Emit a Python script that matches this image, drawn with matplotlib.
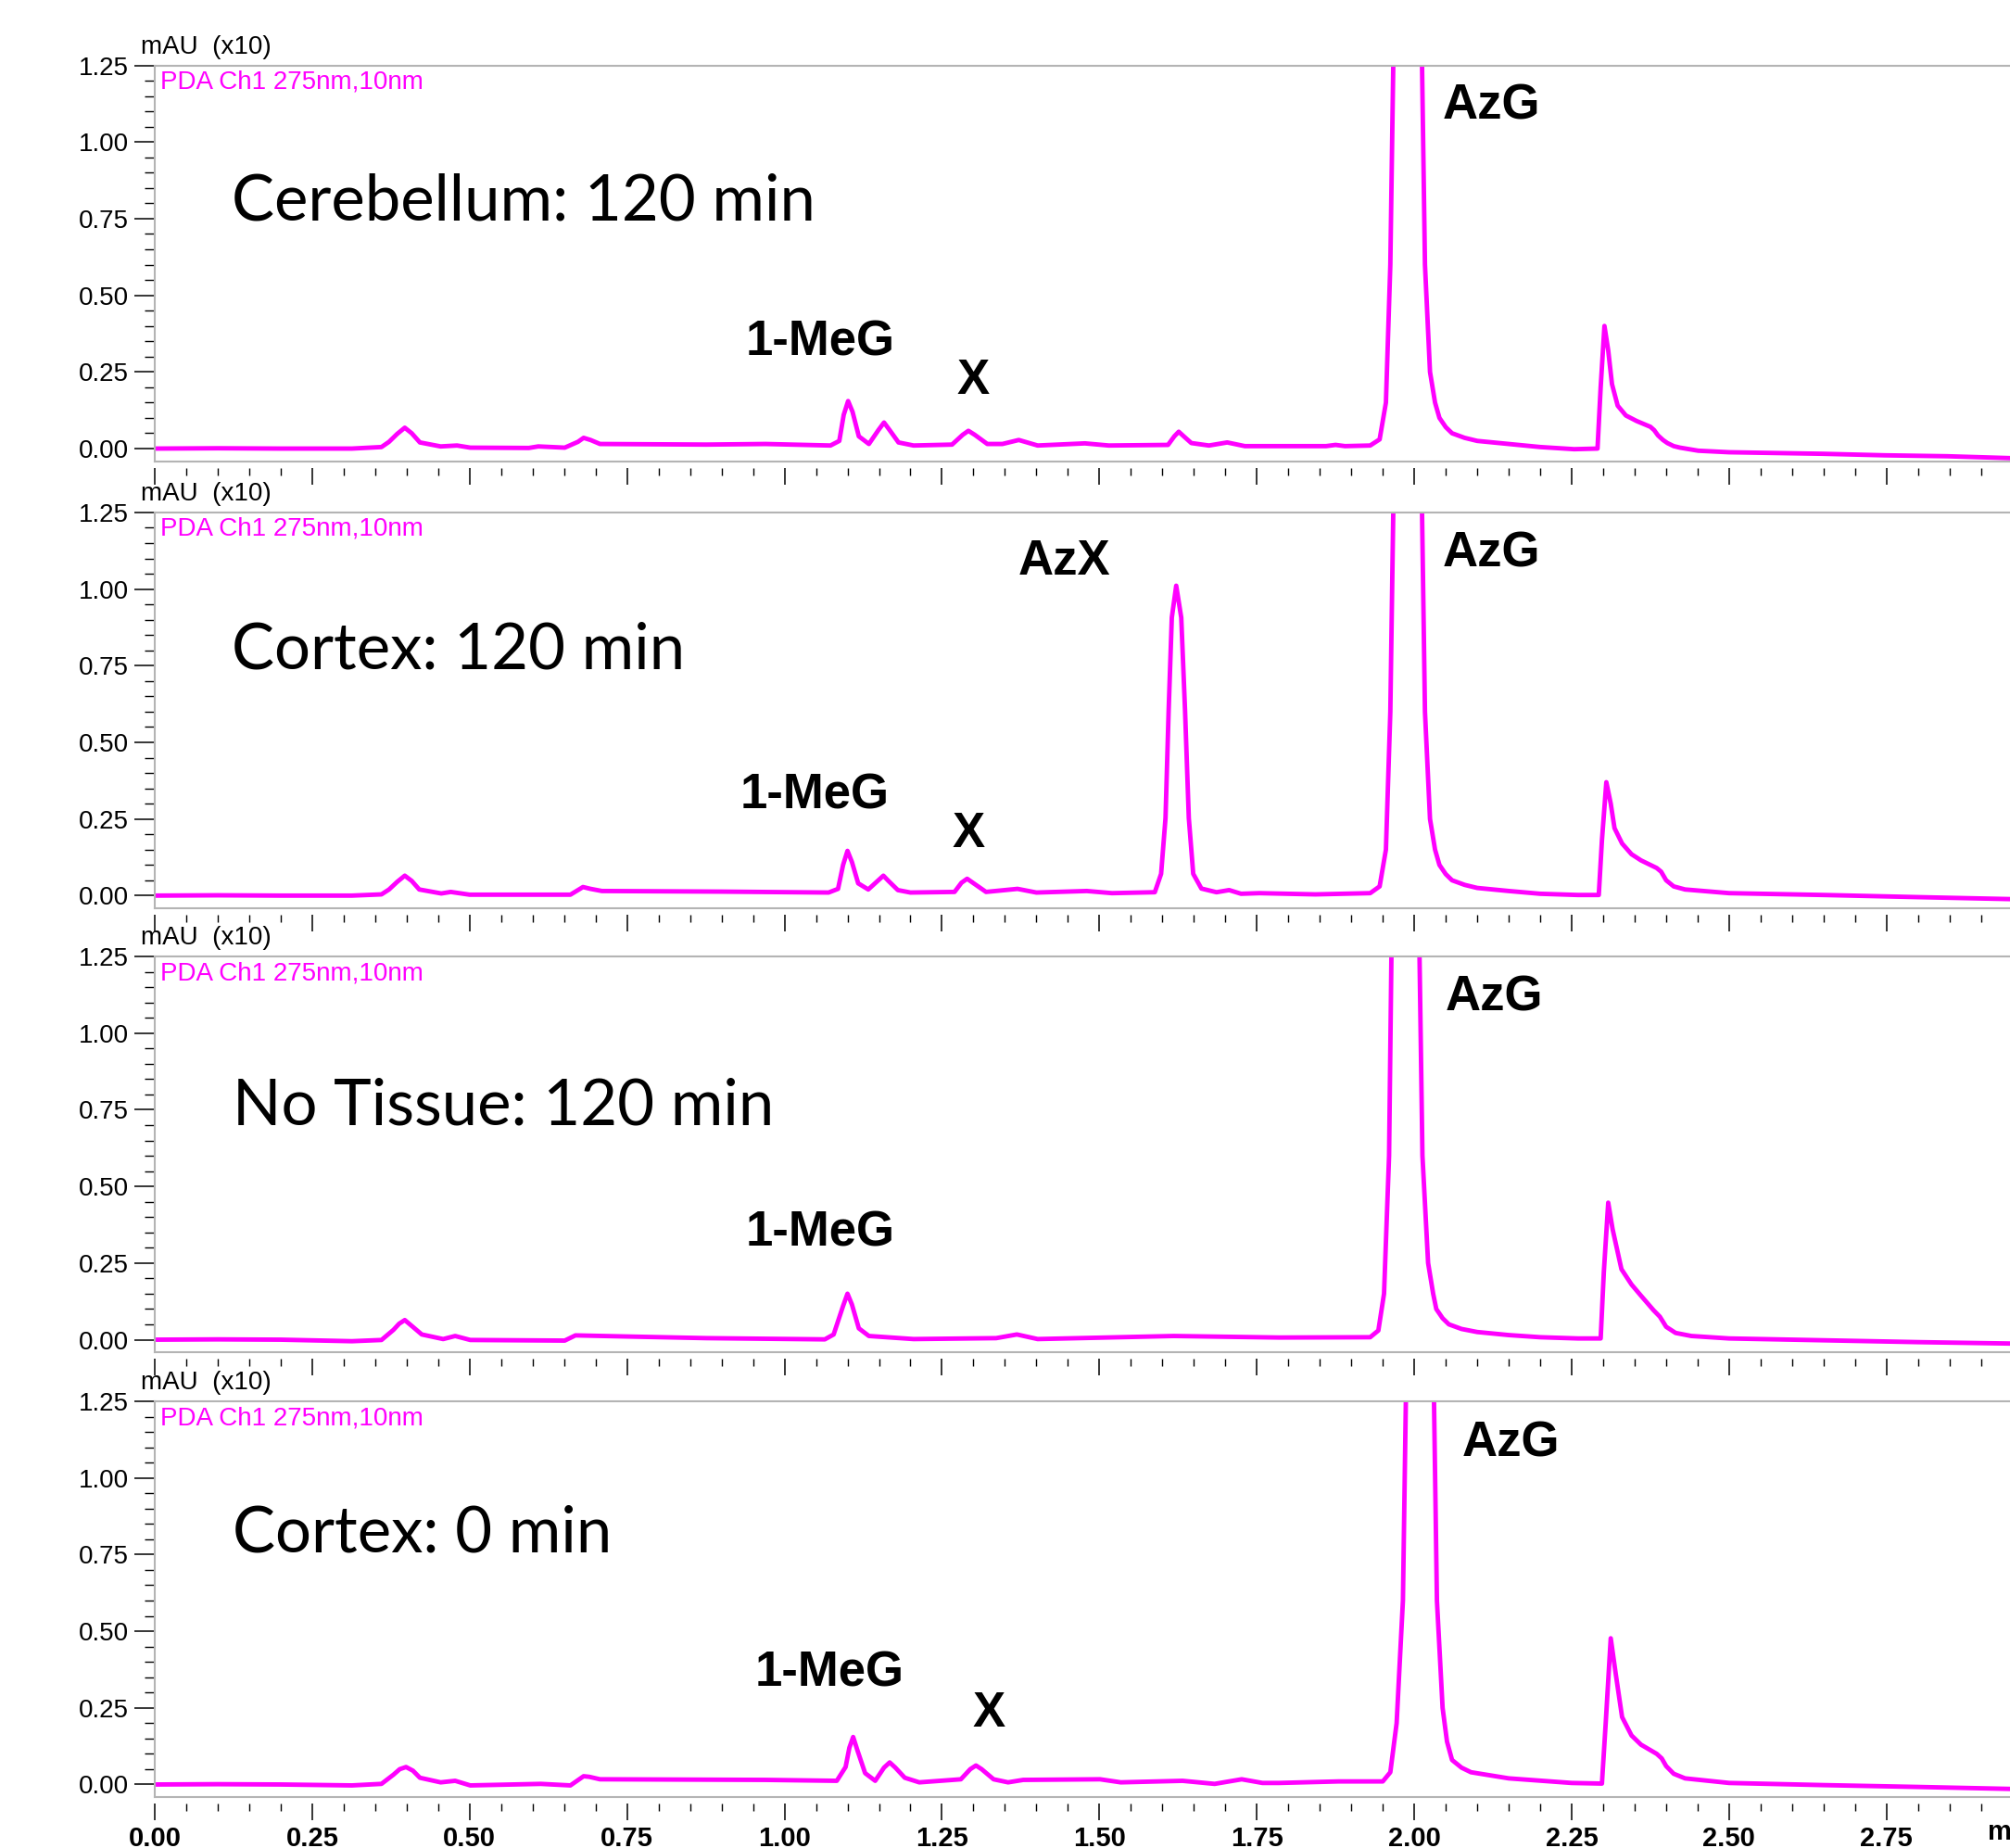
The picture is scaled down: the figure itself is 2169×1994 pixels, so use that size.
import numpy as np
import matplotlib
matplotlib.use("Agg")
import matplotlib.pyplot as plt
from matplotlib.ticker import MultipleLocator, FormatStrFormatter

# retention time (min) / absorbance (mAU x10)
t_cereb = [0.00, 0.10, 0.20, 0.313, 0.360, 0.372, 0.385, 0.397, 0.408, 0.421, 0.454, 0.480, 0.501,
           0.594, 0.609, 0.651, 0.672, 0.681, 0.692, 0.707, 0.876, 0.970, 1.073, 1.087, 1.094,
           1.101, 1.108, 1.118, 1.134, 1.149, 1.158, 1.167, 1.181, 1.205, 1.266, 1.283, 1.292,
           1.302, 1.322, 1.346, 1.372, 1.402, 1.477, 1.515, 1.609, 1.619, 1.626, 1.634, 1.646,
           1.674, 1.703, 1.731, 1.785, 1.860, 1.875, 1.890, 1.930, 1.945, 1.955, 1.962, 1.967,
           1.990, 2.012, 2.017, 2.025, 2.033, 2.040, 2.050, 2.060, 2.080, 2.100, 2.150, 2.200,
           2.254, 2.291, 2.296, 2.302, 2.308, 2.314, 2.323, 2.336, 2.353, 2.375, 2.381, 2.387,
           2.395, 2.402, 2.412, 2.422, 2.451, 2.500, 2.648, 2.747, 2.846, 2.960]
v_cereb = [0.000, 0.001, 0.000, 0.000, 0.005, 0.022, 0.048, 0.068, 0.050, 0.020, 0.007, 0.010, 0.003,
           0.002, 0.007, 0.003, 0.022, 0.035, 0.028, 0.015, 0.013, 0.015, 0.010, 0.025, 0.110,
           0.155, 0.120, 0.040, 0.015, 0.060, 0.085, 0.060, 0.020, 0.010, 0.013, 0.045, 0.058,
           0.045, 0.015, 0.015, 0.028, 0.010, 0.017, 0.010, 0.012, 0.040, 0.055, 0.040, 0.018,
           0.010, 0.020, 0.008, 0.008, 0.008, 0.012, 0.008, 0.010, 0.030, 0.150, 0.600, 1.300,
           3.000, 1.300, 0.600, 0.250, 0.150, 0.100, 0.070, 0.050, 0.035, 0.025, 0.015, 0.005,
           -0.002, 0.000, 0.200, 0.400, 0.320, 0.210, 0.140, 0.108, 0.090, 0.071, 0.060, 0.043,
           0.028, 0.018, 0.008, 0.003, -0.007, -0.012, -0.017, -0.022, -0.025, -0.032]

t_cortex120 = [0.00, 0.10, 0.20, 0.313, 0.360, 0.372, 0.385, 0.397, 0.408, 0.420, 0.455, 0.470, 0.500,
               0.660, 0.680, 0.692, 0.710, 0.900, 1.070, 1.085, 1.093, 1.100, 1.107, 1.117, 1.133,
               1.149, 1.157, 1.165, 1.180, 1.200, 1.270, 1.281, 1.290, 1.299, 1.320, 1.370, 1.400,
               1.480, 1.520, 1.588, 1.598, 1.605, 1.610, 1.615, 1.622, 1.630, 1.636, 1.642, 1.649,
               1.662, 1.686, 1.706, 1.725, 1.754, 1.843, 1.930, 1.945, 1.955, 1.962, 1.967, 1.990,
               2.012, 2.017, 2.025, 2.033, 2.040, 2.050, 2.060, 2.080, 2.100, 2.150, 2.200, 2.260,
               2.293, 2.298, 2.305, 2.312, 2.318, 2.330, 2.345, 2.360, 2.385, 2.392, 2.400, 2.412,
               2.430, 2.500, 2.650, 2.800, 2.960]
v_cortex120 = [0.000, 0.001, 0.000, 0.000, 0.004, 0.020, 0.045, 0.065, 0.048, 0.020, 0.007, 0.012, 0.003,
               0.003, 0.028, 0.022, 0.015, 0.013, 0.010, 0.022, 0.100, 0.146, 0.110, 0.040, 0.020,
               0.050, 0.065, 0.048, 0.018, 0.010, 0.012, 0.042, 0.055, 0.042, 0.012, 0.022, 0.010,
               0.015, 0.008, 0.011, 0.071, 0.253, 0.605, 0.907, 1.011, 0.907, 0.605, 0.253, 0.071,
               0.023, 0.011, 0.018, 0.006, 0.008, 0.004, 0.008, 0.030, 0.150, 0.600, 1.300, 3.000,
               1.300, 0.600, 0.250, 0.150, 0.100, 0.070, 0.050, 0.035, 0.025, 0.015, 0.006, 0.002,
               0.002, 0.180, 0.370, 0.300, 0.220, 0.170, 0.135, 0.115, 0.090, 0.078, 0.050, 0.030,
               0.020, 0.008, 0.002, -0.005, -0.012]

t_notissue = [0.00, 0.10, 0.20, 0.313, 0.360, 0.379, 0.388, 0.397, 0.408, 0.424, 0.458, 0.477, 0.501,
              0.651, 0.668, 0.735, 0.876, 1.064, 1.078, 1.093, 1.100, 1.107, 1.118, 1.134, 1.205,
              1.336, 1.369, 1.402, 1.618, 1.785, 1.930, 1.943, 1.952, 1.960, 1.964, 1.986, 2.008,
              2.013, 2.022, 2.030, 2.035, 2.045, 2.055, 2.075, 2.100, 2.150, 2.200, 2.260, 2.296,
              2.301, 2.308, 2.315, 2.329, 2.345, 2.359, 2.380, 2.390, 2.400, 2.415, 2.440, 2.500,
              2.650, 2.800, 2.960]
v_notissue = [0.000, 0.001, 0.000, -0.005, -0.001, 0.032, 0.052, 0.064, 0.045, 0.017, 0.002, 0.012, -0.001,
              -0.003, 0.014, 0.011, 0.005, 0.001, 0.017, 0.110, 0.150, 0.115, 0.037, 0.012, 0.002,
              0.005, 0.017, 0.002, 0.012, 0.007, 0.008, 0.030, 0.150, 0.600, 1.300, 3.000, 1.300,
              0.600, 0.250, 0.150, 0.100, 0.070, 0.050, 0.035, 0.025, 0.015, 0.008, 0.004, 0.004,
              0.220, 0.447, 0.360, 0.230, 0.180, 0.146, 0.096, 0.075, 0.042, 0.022, 0.012, 0.004,
              -0.002, -0.008, -0.013]

t_cortex0 = [0.00, 0.10, 0.20, 0.313, 0.360, 0.379, 0.389, 0.399, 0.410, 0.421, 0.454, 0.477, 0.501,
             0.613, 0.660, 0.681, 0.690, 0.707, 0.970, 1.083, 1.097, 1.103, 1.109, 1.116, 1.128,
             1.144, 1.158, 1.167, 1.176, 1.191, 1.214, 1.280, 1.295, 1.304, 1.313, 1.332, 1.355,
             1.379, 1.501, 1.534, 1.632, 1.683, 1.726, 1.759, 1.785, 1.880, 1.950, 1.962, 1.972,
             1.982, 1.987, 2.009, 2.031, 2.036, 2.045, 2.052, 2.060, 2.075, 2.090, 2.150, 2.250,
             2.298, 2.304, 2.312, 2.320, 2.330, 2.345, 2.360, 2.385, 2.393, 2.400, 2.412, 2.430,
             2.500, 2.650, 2.800, 2.960]
v_cortex0 = [0.000, 0.001, 0.000, -0.003, 0.002, 0.032, 0.050, 0.057, 0.045, 0.022, 0.007, 0.012, -0.003,
             0.002, -0.003, 0.027, 0.025, 0.017, 0.015, 0.012, 0.057, 0.120, 0.155, 0.110, 0.037,
             0.012, 0.055, 0.072, 0.055, 0.022, 0.007, 0.017, 0.050, 0.062, 0.050, 0.017, 0.007,
             0.015, 0.017, 0.007, 0.012, 0.002, 0.017, 0.005, 0.005, 0.010, 0.010, 0.040, 0.200,
             0.600, 1.300, 3.000, 1.300, 0.600, 0.250, 0.140, 0.080, 0.055, 0.040, 0.020, 0.005,
             0.003, 0.200, 0.477, 0.360, 0.220, 0.160, 0.130, 0.100, 0.085, 0.060, 0.035, 0.020,
             0.005, -0.002, -0.008, -0.015]

panel_names = ["Cerebellum: 120 min", "Cortex: 120 min", "No Tissue: 120 min", "Cortex: 0 min"]
panel_series = [(t_cereb, v_cereb), (t_cortex120, v_cortex120),
                (t_notissue, v_notissue), (t_cortex0, v_cortex0)]
name_pos = [(0.122, 0.803), (0.122, 0.798), (0.124, 0.761), (0.124, 0.819)]
# peak annotations: (label, time, level)
peak_labels = [
    [("AzG", 2.123, 1.116), ("1-MeG", 1.056, 0.347), ("X", 1.300, 0.222)],
    [("AzG", 2.123, 1.116), ("AzX", 1.445, 1.091), ("1-MeG", 1.048, 0.326), ("X", 1.292, 0.200)],
    [("AzG", 2.127, 1.116), ("1-MeG", 1.056, 0.347)],
    [("AzG", 2.153, 1.112), ("1-MeG", 1.071, 0.364), ("X", 1.325, 0.230)],
]

magenta = "#ff00ff"
frame_gray = "#b4b4b4"
tick_font = "Liberation Sans"

fig = plt.figure(figsize=(21.69, 19.94), dpi=100)

panel_tops = [0.9646, 0.7227, 0.4824, 0.2417]
ax_h = 0.2143
ax_left = 0.0770
x_hi = 2.946
ax_w = 1.0 - ax_left
y_lo, y_hi = -0.042, 1.25

for i, ((t, v), name) in enumerate(zip(panel_series, panel_names)):
    ax = fig.add_axes([ax_left, panel_tops[i] - ax_h, ax_w, ax_h])
    ax.plot(t, v, color=magenta, linewidth=3.5, solid_joinstyle="round")
    ax.set_xlim(0, x_hi)
    ax.set_ylim(y_lo, y_hi)

    for s in ["top", "left"]:
        ax.spines[s].set_color(frame_gray)
        ax.spines[s].set_linewidth(1.5)
    ax.spines["right"].set_visible(False)
    ax.spines["bottom"].set_position(("outward", 5))
    ax.spines["bottom"].set_color("none")
    ax.axhline(y_lo, color=frame_gray, linewidth=1.5, clip_on=False)

    ax.yaxis.set_major_locator(MultipleLocator(0.25))
    ax.yaxis.set_minor_locator(MultipleLocator(0.05))
    ax.yaxis.set_major_formatter(FormatStrFormatter("%.2f"))
    ax.xaxis.set_major_locator(MultipleLocator(0.25))
    ax.xaxis.set_minor_locator(MultipleLocator(0.05))
    ax.xaxis.set_major_formatter(FormatStrFormatter("%.2f"))

    ax.tick_params(axis="y", which="major", direction="out", length=16, width=1.1,
                   color="black", pad=4, labelsize=20)
    ax.tick_params(axis="y", which="minor", direction="out", length=8, width=1.0, color="black")
    ax.tick_params(axis="x", which="major", direction="out", length=13, width=1.1,
                   color="black", pad=4, labelsize=21)
    ax.tick_params(axis="x", which="minor", direction="out", length=6, width=1.0, color="black")
    for lab in ax.get_yticklabels():
        lab.set_family(tick_font)

    if i < 3:
        ax.tick_params(axis="x", which="both", labelbottom=False)
    else:
        for lab in ax.get_xticklabels():
            lab.set_family(tick_font)
            lab.set_fontweight("bold")
        ax.text(2.91, -0.155, "min", fontsize=21, fontweight="bold", family=tick_font,
                ha="left", va="center", clip_on=False)

    ax.annotate("mAU  (x10)", xy=(0, 1), xycoords="axes fraction", xytext=(-15, 7),
                textcoords="offset pixels", ha="left", va="bottom", fontsize=20,
                family=tick_font)
    ax.annotate("PDA Ch1 275nm,10nm", xy=(0, 1), xycoords="axes fraction", xytext=(6, -5),
                textcoords="offset pixels", ha="left", va="top", fontsize=20,
                family=tick_font, color=magenta)

    ax.text(name_pos[i][0], name_pos[i][1], name, fontsize=49.6, family="Lato",
            ha="left", va="center")
    for lab, x, y in peak_labels[i]:
        ax.text(x, y, lab, fontsize=38, fontweight="bold", family=tick_font,
                ha="center", va="center")

fig.savefig("out.png", dpi=100)
